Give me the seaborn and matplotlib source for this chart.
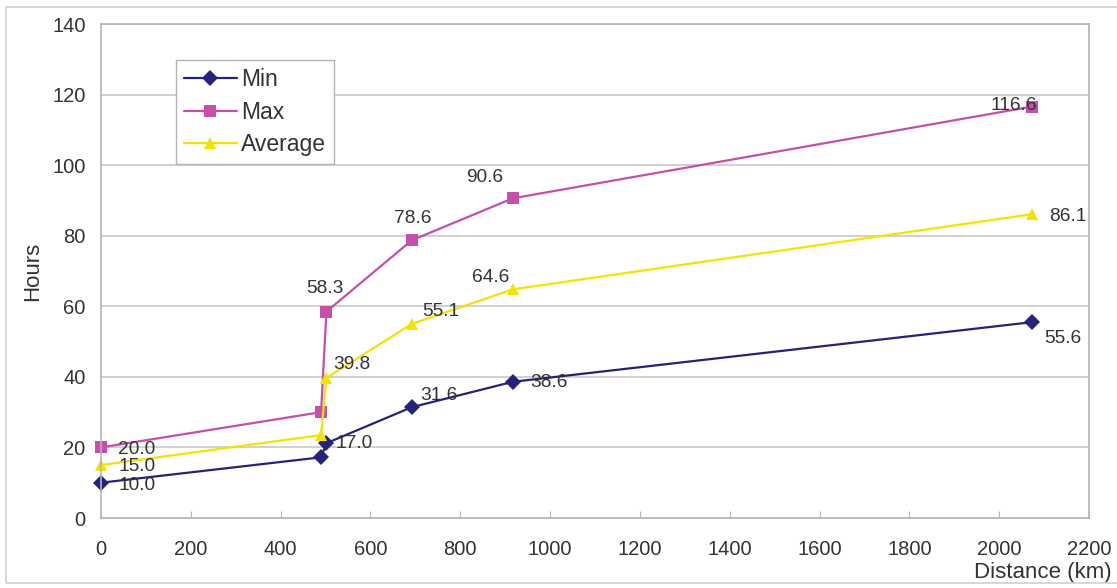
import pandas as pd
import matplotlib
matplotlib.use("Agg")
import matplotlib.pyplot as plt
from matplotlib.patches import Rectangle
import seaborn as sns

# values
distance = [0, 490, 502, 692, 917, 2073]
min_hours = [10.0, 17.2, 21.2, 31.4, 38.6, 55.5]
max_hours = [20.0, 30.0, 58.5, 78.7, 90.6, 116.6]
avg_hours = [15.0, 23.5, 39.7, 55.0, 64.8, 86.1]

# data labels as printed on the chart (None = no label)
min_labels = ["10.0", None, "17.0", "31.6", "38.6", "55.6"]
max_labels = ["20.0", None, "58.3", "78.6", "90.6", "116.6"]
avg_labels = ["15.0", None, "39.8", "55.1", "64.6", "86.1"]

series_names = ["Min", "Max", "Average"]
colors = {"Min": "#23237a", "Max": "#c54fa9", "Average": "#f0e400"}
markers = {"Min": "D", "Max": "s", "Average": "^"}

frames = []
for name, vals in zip(series_names, [min_hours, max_hours, avg_hours]):
    frames.append(pd.DataFrame({"Distance": distance, "Hours": vals, "Series": name}))
df = pd.concat(frames, ignore_index=True)

sns.set_style("white")
plt.rcParams["font.family"] = ["Liberation Sans", "DejaVu Sans"]

fig = plt.figure(figsize=(11.17, 5.88), dpi=100)
ax = fig.add_axes([101 / 1117, 1 - 518 / 588, 988 / 1117, 494 / 588])

sns.lineplot(data=df, x="Distance", y="Hours", hue="Series", style="Series",
             palette=colors, markers=markers, dashes=False, sort=False,
             linewidth=1.6, markersize=8.5, markeredgewidth=0, ax=ax)
for ln in ax.lines:
    ln.set_clip_on(False)

# data labels: (offset x px, offset y px, ha)
label_pos = {
    "Min": [(17, -3, "left"), None, (9, 0, "left"), (8, 12, "left"), (17, -1, "left"), (12, -16, "left")],
    "Max": [(17, -2, "left"), None, (-2, 23, "center"), (1, 22, "center"), (-28, 21, "center"), (-18, 1, "center")],
    "Average": [(17, -1, "left"), None, (7, 13, "left"), (10, 12, "left"), (-22, 12, "center"), (17, -2, "left")],
}
for name, vals, labs in zip(series_names, [min_hours, max_hours, avg_hours],
                            [min_labels, max_labels, avg_labels]):
    for x, y, lab, pos in zip(distance, vals, labs, label_pos[name]):
        if lab is None:
            continue
        dx, dy, ha = pos
        ax.annotate(lab, (x, y), xytext=(dx, dy), textcoords="offset pixels",
                    ha=ha, va="center", fontsize=13.8, color="#333333")

ax.set_xlim(0, 2200)
ax.set_ylim(0, 140)
ax.set_xticks(range(0, 2201, 200))
ax.set_yticks(range(0, 141, 20))
ax.yaxis.grid(True, color="#c8c8c8", linewidth=1.2)
ax.xaxis.grid(False)
for sp in ax.spines.values():
    sp.set_color("#b4b4b4")
    sp.set_linewidth(1.2)

ax.tick_params(axis="x", direction="in", length=5, color="#b4b4b4", pad=16,
               labelsize=14.5, labelcolor="#333333", bottom=True)
ax.tick_params(axis="y", length=0, pad=11, labelsize=14.5, labelcolor="#333333")

ax.set_xlabel("Distance (km)", fontsize=16, color="#333333")
ax.xaxis.set_label_coords(1.023, -0.111)
ax.xaxis.label.set_ha("right")
ax.xaxis.label.set_va("center")
ax.set_ylabel("Hours", fontsize=16, color="#333333")
ax.yaxis.set_label_coords(-0.069, 0.5)
ax.yaxis.label.set_va("center")

handles, labels = ax.get_legend_handles_labels()
leg = ax.legend(handles, labels, loc="upper left", bbox_to_anchor=(0.076, 0.927),
                borderaxespad=0, fontsize=16.5, frameon=True, fancybox=False,
                handlelength=2.3, handletextpad=0.2, labelspacing=0.42,
                borderpad=0.35, framealpha=1)
leg.get_frame().set_edgecolor("#b4b4b4")
leg.get_frame().set_linewidth(1.0)
for t in leg.get_texts():
    t.set_color("#333333")

# outer chart border
fig.patches.append(Rectangle((6 / 1117, 5 / 588), 1.2, 1 - 12 / 588, transform=fig.transFigure,
                             fill=False, edgecolor="#d0d0d0", linewidth=1.2))

fig.savefig("out.png", dpi=100)
